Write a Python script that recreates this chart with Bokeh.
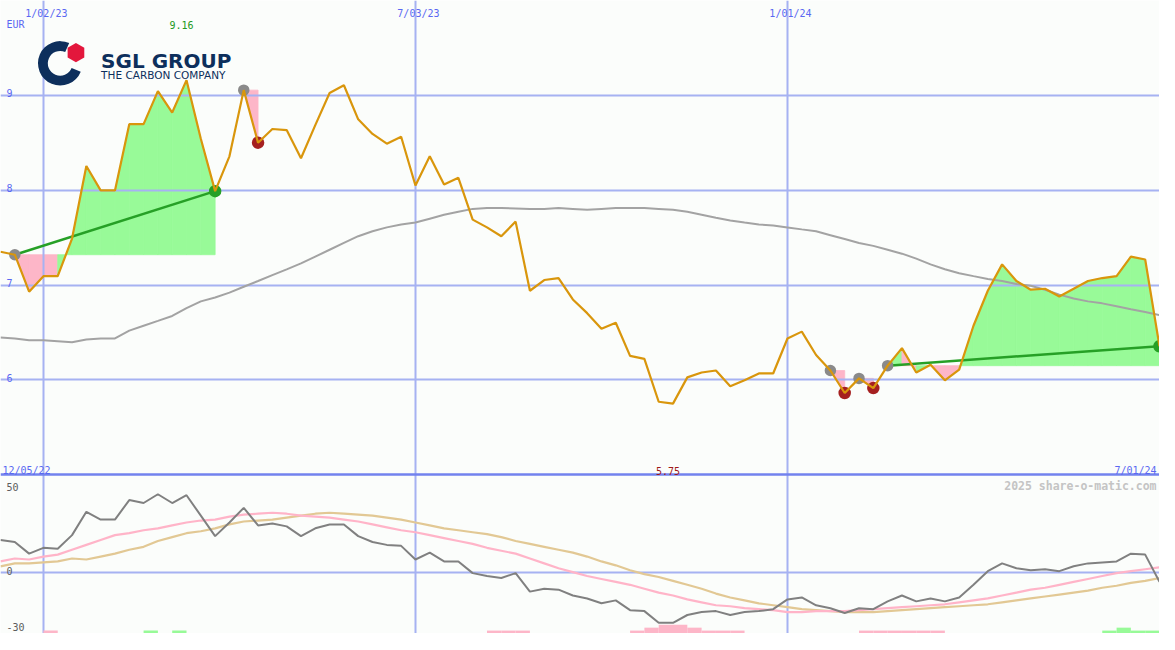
import numpy as np
import pandas as pd
from bokeh.plotting import figure
from bokeh.models import Range1d, Label
from bokeh.core.properties import value
from bokeh.embed import file_html
from bokeh.resources import INLINE

# ---------------- data ----------------
START = "2022-12-12"
currency = "EUR"
range_labels = ["12/05/22", "7/01/24"]
grid_dates = ["2023-01-02", "2023-07-03", "2024-01-01"]
grid_date_labels = ["1/02/23", "7/03/23", "1/01/24"]
price_ticks = [6, 7, 8, 9]
ind_ticks = [50, 0, -30]
watermark = "2025 share-o-matic.com"

price = [7.351, 7.320, 6.930, 7.094, 7.094, 7.490, 8.255, 7.998, 7.998, 8.696,
         8.696, 9.045, 8.819, 9.160, 8.542, 7.990, 8.357, 9.055, 8.501, 8.645,
         8.634, 8.337, 8.686, 9.025, 9.107, 8.747, 8.593, 8.491, 8.563, 8.049,
         8.357, 8.060, 8.131, 7.690, 7.608, 7.515, 7.669, 6.940, 7.053, 7.074,
         6.848, 6.704, 6.540, 6.602, 6.253, 6.222, 5.770, 5.750, 6.027, 6.078,
         6.099, 5.934, 5.996, 6.068, 6.068, 6.437, 6.509, 6.263, 6.099, 5.862,
         6.016, 5.914, 6.150, 6.335, 6.078, 6.160, 5.996, 6.109, 6.571, 6.940,
         7.218, 7.043, 6.951, 6.961, 6.879, 6.961, 7.043, 7.074, 7.094, 7.300,
         7.269, 6.355]

ma_long = [6.448, 6.437, 6.417, 6.417, 6.407, 6.396, 6.427, 6.437, 6.437, 6.520,
           6.571, 6.622, 6.674, 6.756, 6.828, 6.869, 6.920, 6.982, 7.043, 7.105,
           7.166, 7.228, 7.300, 7.372, 7.444, 7.515, 7.567, 7.608, 7.639, 7.659,
           7.700, 7.741, 7.772, 7.803, 7.813, 7.813, 7.808, 7.803, 7.803, 7.813,
           7.803, 7.793, 7.803, 7.813, 7.813, 7.813, 7.803, 7.793, 7.772, 7.741,
           7.710, 7.680, 7.659, 7.639, 7.628, 7.608, 7.587, 7.567, 7.526, 7.485,
           7.444, 7.413, 7.372, 7.331, 7.279, 7.218, 7.166, 7.125, 7.094, 7.064,
           7.043, 7.012, 6.992, 6.951, 6.899, 6.858, 6.828, 6.807, 6.776, 6.745,
           6.715, 6.684]

momentum = [16.75, 15.75, 9.75, 12.75, 12.25, 19.25, 31.25, 27.25, 27.25, 37.25,
            35.75, 40.25, 35.75, 39.75, 29.25, 18.75, 25.75, 33.25, 24.25, 25.25,
            23.75, 18.75, 22.75, 24.75, 24.75, 18.75, 15.75, 14.25, 13.75, 6.75,
            10.25, 5.75, 5.75, -0.25, -1.75, -2.75, -0.25, -9.75, -8.25, -8.75,
            -11.75, -13.25, -15.75, -14.25, -19.25, -19.75, -25.75, -25.75, -21.75, -20.25,
            -19.75, -21.75, -20.25, -19.75, -18.75, -13.75, -12.75, -16.75, -18.25, -20.75,
            -18.25, -18.75, -14.75, -11.75, -14.75, -13.25, -14.75, -12.75, -6.25, 0.75,
            4.75, 2.25, 1.25, 1.75, 0.75, 3.25, 4.75, 5.25, 5.75, 9.75,
            9.25, -4.75]

mom_fast = [5.75, 7.25, 6.75, 8.25, 9.25, 11.75, 14.25, 16.75, 19.25, 20.25,
            21.75, 22.75, 24.25, 25.75, 26.75, 27.25, 28.75, 29.75, 30.25, 30.75,
            30.25, 29.25, 28.75, 28.25, 27.25, 26.25, 24.75, 23.25, 21.75, 20.75,
            19.25, 17.75, 16.25, 14.75, 12.75, 11.25, 9.75, 7.25, 4.75, 2.25,
            0.25, -1.75, -3.25, -4.75, -6.25, -8.25, -10.25, -11.75, -13.75, -15.25,
            -16.75, -17.25, -18.25, -18.75, -19.25, -20.25, -20.25, -19.75, -19.75, -19.75,
            -19.25, -18.75, -18.25, -17.75, -17.25, -16.75, -16.25, -15.25, -14.25, -13.25,
            -11.75, -10.25, -8.75, -7.75, -6.25, -4.75, -3.25, -1.75, -0.25, 0.75,
            1.75, 2.75]

mom_slow = [3.25, 4.75, 4.75, 5.25, 5.75, 7.25, 6.75, 8.25, 9.75, 11.75,
            13.25, 16.25, 18.25, 20.25, 21.25, 22.75, 24.75, 26.25, 26.75, 27.25,
            28.25, 29.25, 30.25, 30.75, 30.25, 29.75, 29.25, 28.25, 27.25, 25.75,
            24.25, 22.75, 21.75, 20.75, 19.75, 18.25, 16.25, 14.75, 13.25, 11.75,
            10.25, 8.25, 5.75, 3.75, 1.25, -0.75, -2.25, -4.25, -6.25, -8.25,
            -10.75, -12.75, -14.25, -15.75, -16.75, -17.75, -18.75, -19.25, -19.75, -20.25,
            -20.25, -20.25, -19.75, -19.25, -18.75, -18.25, -17.75, -17.25, -16.75, -16.25,
            -15.25, -14.25, -13.25, -12.25, -11.25, -10.25, -9.25, -7.75, -6.75, -5.25,
            -4.25, -2.75]

trade_entry = [1, 17, 58, 60, 62]
trade_exit = [15, 18, 59, 61, 81]

sig_weeks = [3, 10, 12, 34, 35, 36, 44, 45, 46, 47, 48, 49, 50, 51,
             60, 61, 62, 63, 64, 65, 77, 78, 79, 80]
sig_vals = [-1.5, 1.5, 1.5, -1.5, -1.5, -1.5, -1.5, -3.0, -4.5, -4.5, -3.0, -1.5, -1.5, -1.5,
            -1.5, -1.5, -1.5, -1.5, -1.5, -1.5, 1.5, 3.0, 1.5, 1.5]

# ---------------- layout / style ----------------
W, H = 1159, 633
REF_W, REF_H = 1175, 650
SX, SY = W / REF_W, H / REF_H
PANEL_FRAC = 487 / 650
PRICE_LO, PRICE_HI = 5.0, 10.0
Y_LO = PRICE_HI - (PRICE_HI - PRICE_LO) / PANEL_FRAC
IND_LO = -31.25
IND_HI = IND_LO + 0.5 * REF_H

BG = "#fbfdfb"
GRID = "#a6b2f2"
SEP = "#7282ee"
TICK_BLUE = "#5a68f2"
ORANGE = "#d9960c"
MA_GREY = "#a3a3a3"
GREEN_FILL = "#98fa98"
PINK_FILL = "#fdb6c8"
TRADE_GREEN = "#26a026"
DOT_GREY = "#8a8a8a"
DOT_RED = "#a52020"
MOM_GREY = "#808080"
FAST_PINK = "#ffb4c8"
SLOW_TAN = "#e2c894"
MONO = "DejaVu Sans Mono"

dates = pd.date_range(START, periods=len(price), freq="7D")
xd = (dates.asi8 // 10**6).astype(float)
gx = (pd.to_datetime(grid_dates).asi8 // 10**6).astype(float)

p = figure(width=W, height=H, x_range=Range1d(xd[0], xd[-1]),
           y_range=Range1d(Y_LO, PRICE_HI), x_axis_type=None, y_axis_type=None,
           output_backend="svg", toolbar_location=None, min_border=0,
           background_fill_color=BG, border_fill_color=BG, outline_line_color=None)
p.extra_y_ranges = {"ind": Range1d(IND_LO, IND_HI)}
p.grid.visible = False

# trade fills
fxs, fys, fcs = [], [], []
for e, x_ in zip(trade_entry, trade_exit):
    level = price[e]
    for j in range(e, x_):
        fxs.append([xd[j], xd[j], xd[j + 1], xd[j + 1]])
        fys.append([level, price[j], price[j + 1], level])
        fcs.append(GREEN_FILL if price[j + 1] >= level else PINK_FILL)
p.patches(xs=fxs, ys=fys, fill_color=fcs, line_color=fcs, line_width=0.8)

# grid
p.vspan(x=list(gx), line_color=GRID, line_width=2)
p.hspan(y=price_ticks, line_color=GRID, line_width=2)
p.hspan(y=[0], line_color=GRID, line_width=2, y_range_name="ind")
p.hspan(y=[PRICE_LO], line_color=SEP, line_width=2.5)

# long moving average
p.line(xd, ma_long, line_color=MA_GREY, line_width=2)

# trade lines for winning trades
wins = [(e, x_) for e, x_ in zip(trade_entry, trade_exit) if price[x_] > price[e]]
p.segment(x0=[xd[e] for e, _ in wins], y0=[price[e] for e, _ in wins],
          x1=[xd[x_] for _, x_ in wins], y1=[price[x_] for _, x_ in wins],
          line_color=TRADE_GREEN, line_width=2.5)

# dots
p.scatter([xd[e] for e in trade_entry], [price[e] for e in trade_entry],
          size=11.5, fill_color=DOT_GREY, line_color=None)
p.scatter([xd[x_] for x_ in trade_exit], [price[x_] for x_ in trade_exit], size=12.5,
          fill_color=[TRADE_GREEN if price[x_] > price[e] else DOT_RED
                      for e, x_ in zip(trade_entry, trade_exit)], line_color=None)

# price line
p.line(xd, price, line_color=ORANGE, line_width=2.2)

# indicator panel
p.quad(left=[xd[w] for w in sig_weeks], right=[xd[w + 1] for w in sig_weeks],
       bottom=[IND_LO] * len(sig_weeks), top=[IND_LO + abs(v) for v in sig_vals],
       fill_color=[GREEN_FILL if v > 0 else PINK_FILL for v in sig_vals],
       line_color=None, y_range_name="ind")
p.line(xd, mom_slow, line_color=SLOW_TAN, line_width=2.2, y_range_name="ind")
p.line(xd, mom_fast, line_color=FAST_PINK, line_width=2.2, y_range_name="ind")
p.line(xd, momentum, line_color=MOM_GREY, line_width=2, y_range_name="ind")

# texts
fs = value("10px")
mono = value(MONO)
p.text(x=[xd[0]] * len(price_ticks), y=price_ticks, text=[str(t) for t in price_ticks],
       x_offset=6 * SX, y_offset=-2 * SY, text_baseline="alphabetic",
       text_font=mono, text_font_size=fs, text_color=TICK_BLUE)
p.text(x=[xd[0]], y=[PRICE_HI], text=[currency], x_offset=6 * SX, y_offset=25 * SY,
       text_baseline="alphabetic", text_font=mono, text_font_size=fs, text_color=TICK_BLUE)
p.text(x=list(gx), y=[PRICE_HI] * len(gx), text=grid_date_labels, x_offset=3 * SX,
       y_offset=13 * SY, text_align="center", text_baseline="alphabetic",
       text_font=mono, text_font_size=fs, text_color=TICK_BLUE)
imax = int(np.argmax(price))
imin = int(np.argmin(price))
p.text(x=[xd[imax]], y=[PRICE_HI], text=[f"{price[imax]:.2f}"], x_offset=-5 * SX,
       y_offset=25 * SY, text_align="center", text_baseline="alphabetic",
       text_font=mono, text_font_size=fs, text_color="#229922")
p.text(x=[xd[imin]], y=[PRICE_LO], text=[f"{price[imin]:.2f}"], x_offset=-5 * SX,
       y_offset=-4 * SY, text_align="center", text_baseline="alphabetic",
       text_font=mono, text_font_size=fs, text_color="#a01818")
p.text(x=[xd[0]], y=[PRICE_LO], text=[range_labels[0]], x_offset=2 * SX, y_offset=-4 * SY,
       text_baseline="alphabetic", text_font=mono, text_font_size=fs, text_color=TICK_BLUE)
p.text(x=[xd[-1]], y=[PRICE_LO], text=[range_labels[1]], x_offset=-3 * SX, y_offset=-4 * SY,
       text_align="right", text_baseline="alphabetic", text_font=mono, text_font_size=fs,
       text_color=TICK_BLUE)
p.text(x=[xd[-1]], y=[PRICE_LO], text=[watermark], x_offset=-3 * SX, y_offset=12 * SY,
       text_align="right", text_baseline="alphabetic", text_font=mono,
       text_font_size=value("11.5px"), text_font_style="bold", text_color="#c4c4c4")
ind_offsets = [12, -1.5, -4.5]
for t, off in zip(ind_ticks, ind_offsets):
    p.text(x=[xd[0]], y=[t], text=[str(t)], x_offset=6 * SX, y_offset=off * SY,
           text_baseline="alphabetic", text_font=mono, text_font_size=fs,
           text_color="#5c5c5c", y_range_name="ind")

# logo (decoration)
NAVY = "#0d2f5c"
def px2x(px):
    return xd[0] + (xd[-1] - xd[0]) * px / REF_W
def py2y(py):
    return PRICE_HI - (PRICE_HI - Y_LO) * py / REF_H

p.annular_wedge(x=[px2x(60.5)], y=[py2y(64.5)], inner_radius=12.5 * SX, outer_radius=22.5 * SX,
                inner_radius_units="screen", outer_radius_units="screen",
                start_angle=np.radians(66), end_angle=np.radians(338),
                fill_color=NAVY, line_color=None)
p.scatter(x=[px2x(76.5)], y=[py2y(53.5)], marker="hex", size=19.5 * SX, angle=np.pi / 6,
          fill_color="#e3173c", line_color=None)
p.add_layout(Label(x=102 * SX, y=(REF_H - 62) * SY, x_units="screen", y_units="screen",
                   text="SGL GROUP", text_font="DejaVu Sans", text_font_style="bold",
                   text_font_size="20px", text_color=NAVY, text_baseline="alphabetic"))
p.add_layout(Label(x=102 * SX, y=(REF_H - 77) * SY, x_units="screen", y_units="screen",
                   text="THE CARBON COMPANY", text_font="DejaVu Sans",
                   text_font_size="10.5px", text_color=NAVY, text_baseline="alphabetic"))

open("out.html", "w").write(file_html(p, INLINE))
